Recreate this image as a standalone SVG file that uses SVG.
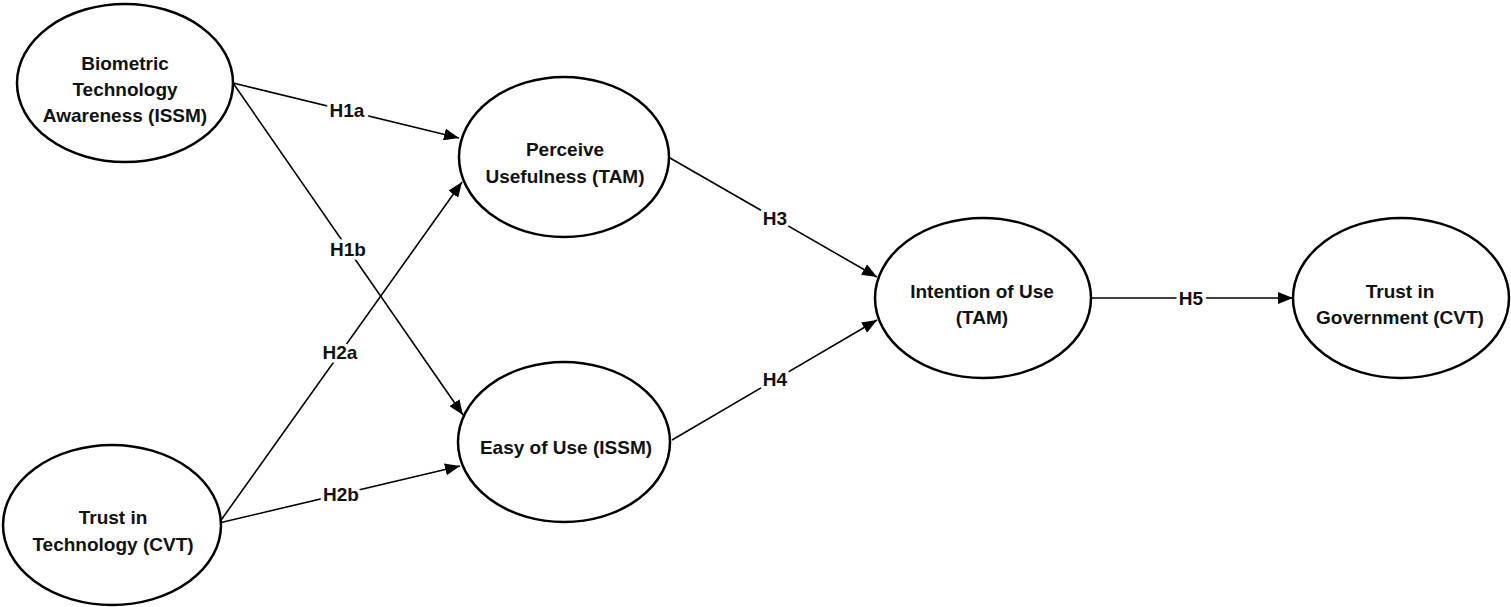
<svg xmlns="http://www.w3.org/2000/svg" width="1511" height="607" viewBox="0 0 1511 607">
<style>
.node ellipse{fill:#fff;stroke:#000;stroke-width:2.5}
.node text{font-family:"Liberation Sans",Arial,sans-serif;font-weight:bold;font-size:19px;fill:#111;text-anchor:middle}
.edge line{stroke:#000;stroke-width:1.6}
.lbl{font-family:"Liberation Sans",Arial,sans-serif;font-weight:bold;font-size:19px;fill:#111;text-anchor:middle;stroke:#fff;stroke-width:7;paint-order:stroke;stroke-linejoin:round}
</style>
<defs>
<marker id="arr" markerUnits="userSpaceOnUse" markerWidth="16" markerHeight="12" refX="15" refY="6" orient="auto">
<path d="M0,0 L15,6 L0,12 z" fill="#000"/>
</marker>
</defs>
<rect width="1511" height="607" fill="#fff"/>
<g id="connectors">
<g class="edge"><line x1="233" y1="83" x2="459" y2="138" marker-end="url(#arr)"/><text class="lbl" x="347" y="117">H1a</text></g>
<g class="edge"><line x1="233" y1="83" x2="463" y2="415" marker-end="url(#arr)"/><text class="lbl" x="348" y="256">H1b</text></g>
<g class="edge"><line x1="219" y1="523" x2="462" y2="182" marker-end="url(#arr)"/><text class="lbl" x="340" y="359">H2a</text></g>
<g class="edge"><line x1="219" y1="523" x2="460" y2="466" marker-end="url(#arr)"/><text class="lbl" x="341" y="501">H2b</text></g>
<g class="edge"><line x1="670" y1="158" x2="877" y2="277" marker-end="url(#arr)"/><text class="lbl" x="775" y="225">H3</text></g>
<g class="edge"><line x1="672" y1="440" x2="877" y2="320" marker-end="url(#arr)"/><text class="lbl" x="775" y="386">H4</text></g>
<g class="edge"><line x1="1091" y1="298" x2="1293" y2="298" marker-end="url(#arr)"/><text class="lbl" x="1191" y="305">H5</text></g>
</g>
<g id="n1" class="node"><ellipse cx="125" cy="83" rx="108" ry="79"/><text x="125" y="70">Biometric</text><text x="125" y="96">Technology</text><text x="125" y="122">Awareness (ISSM)</text></g>
<g id="n2" class="node"><ellipse cx="112" cy="525" rx="109" ry="80"/><text x="113" y="524">Trust in</text><text x="113" y="551">Technology (CVT)</text></g>
<g id="n3" class="node"><ellipse cx="564" cy="157" rx="105" ry="80"/><text x="565" y="156">Perceive</text><text x="565" y="183">Usefulness (TAM)</text></g>
<g id="n4" class="node"><ellipse cx="564" cy="442" rx="106" ry="80"/><text x="566" y="454">Easy of Use (ISSM)</text></g>
<g id="n5" class="node"><ellipse cx="983" cy="298" rx="108" ry="80"/><text x="982" y="298">Intention of Use</text><text x="982" y="324">(TAM)</text></g>
<g id="n6" class="node"><ellipse cx="1401" cy="298" rx="108" ry="80"/><text x="1400" y="298">Trust in</text><text x="1400" y="324">Government (CVT)</text></g>
</svg>
